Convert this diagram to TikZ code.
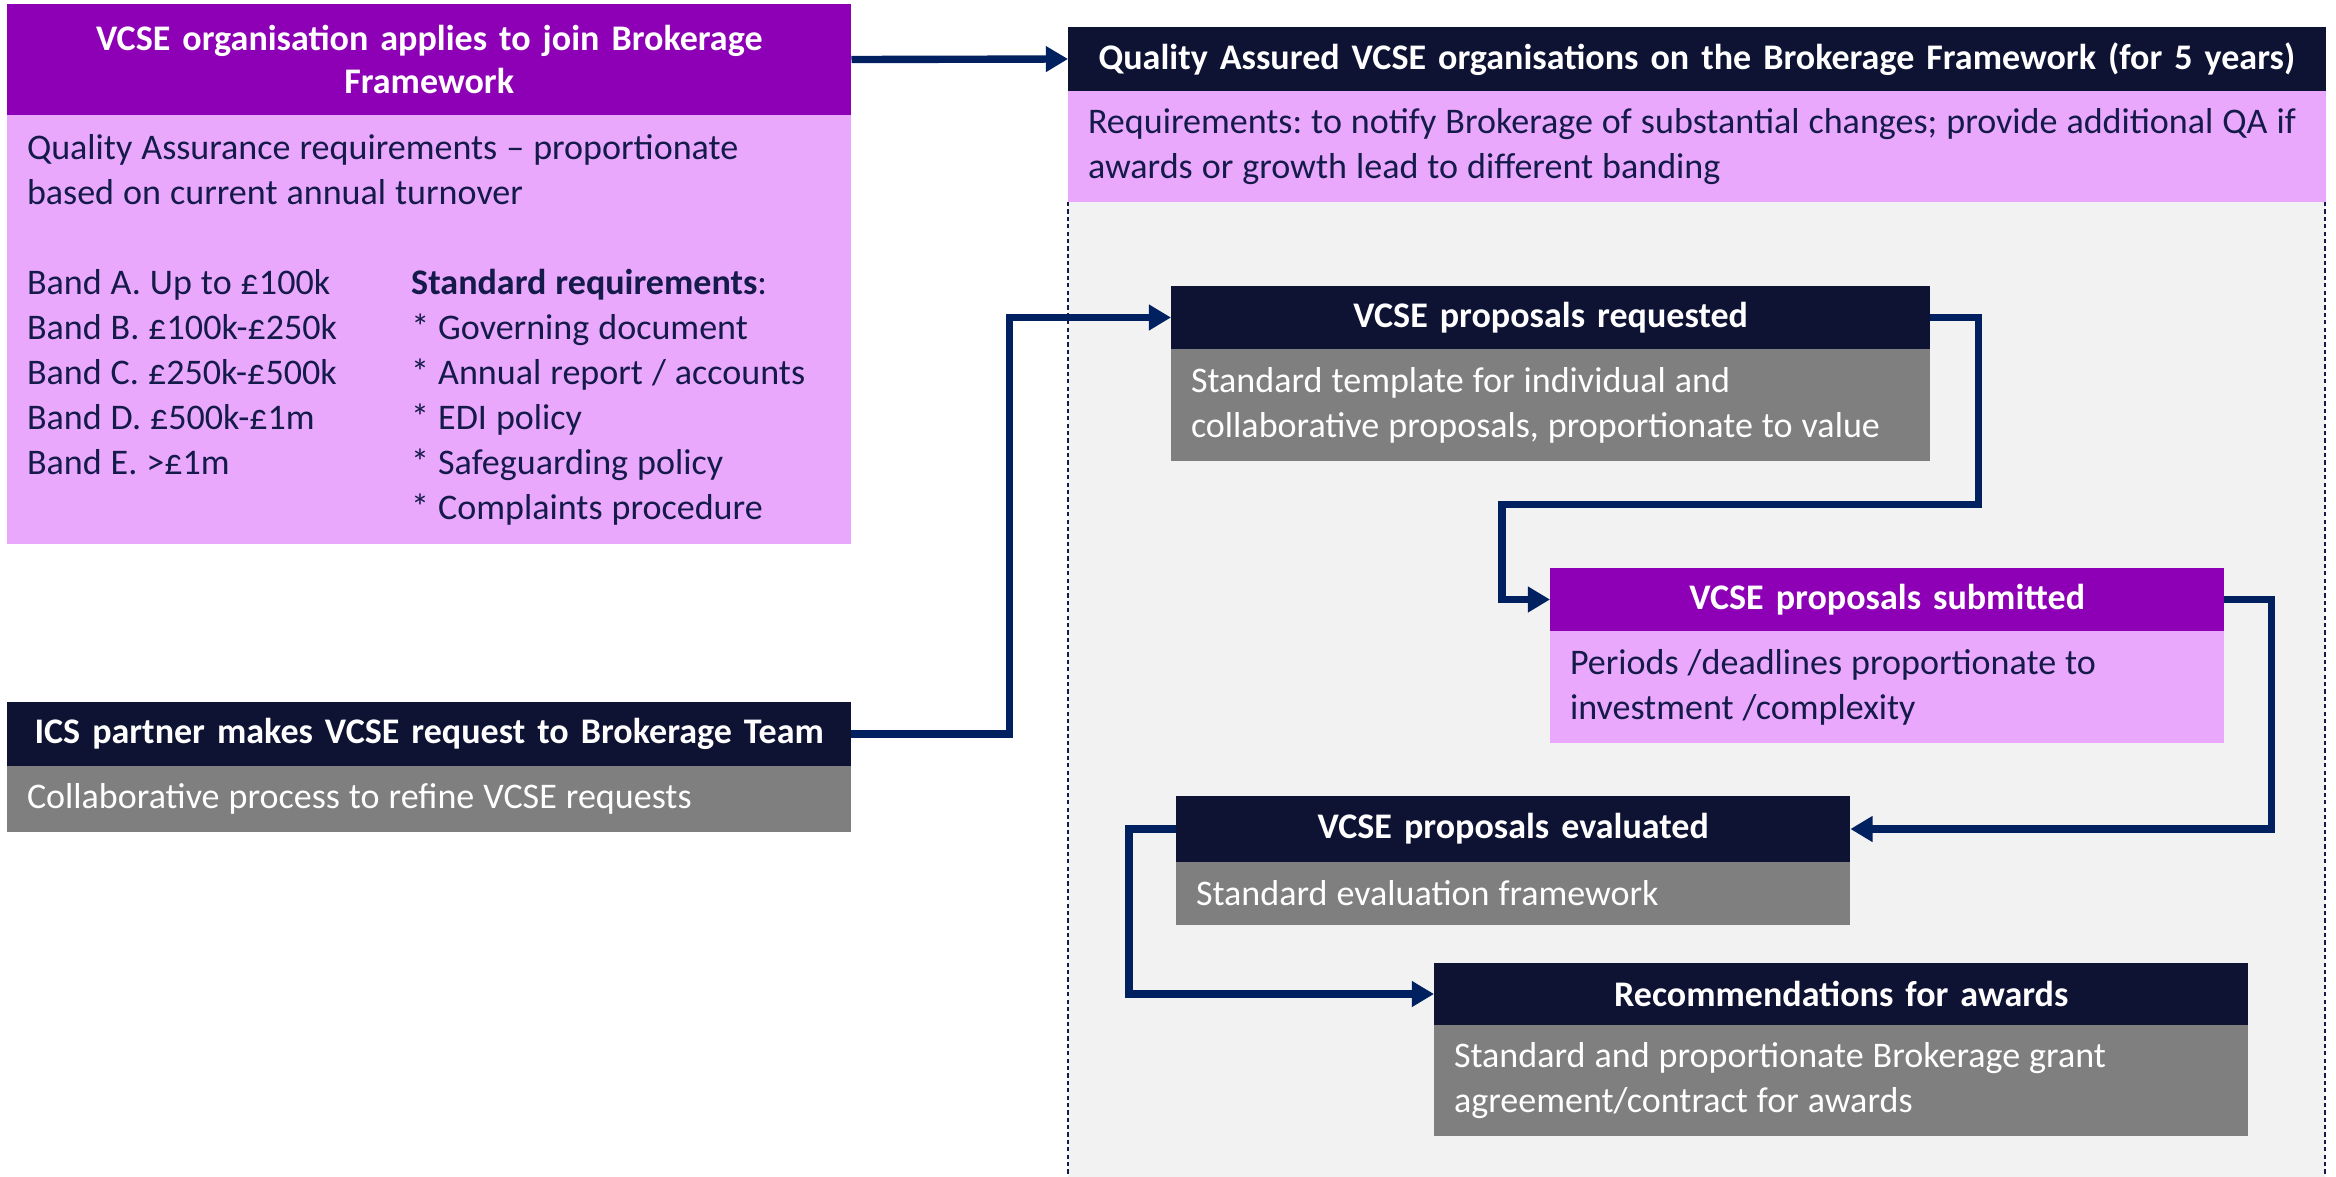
\documentclass[tikz,border=0pt]{standalone}
\usepackage{fontspec}
\setmainfont{Carlito}
\usetikzlibrary{arrows.meta}

\definecolor{headnavy}{HTML}{0E1233}
\definecolor{headpurple}{HTML}{8E00B5}
\definecolor{bodypink}{HTML}{EAA8FC}
\definecolor{bodygrey}{HTML}{7F7F7F}
\definecolor{textnavy}{HTML}{141A4A}
\definecolor{linkblue}{HTML}{002060}
\definecolor{panelgrey}{HTML}{F2F2F2}

\newcommand\headfont{\bfseries\fontsize{10.25}{12.3}\selectfont}
\newcommand\bodyfont{\fontsize{10.25}{12.8}\selectfont}

\begin{document}
\begin{tikzpicture}[x=0.01cm, y=-0.01cm,
  head/.style={fill=headnavy, text=white, font=\headfont,
    inner sep=0pt, outer sep=0pt, align=center, anchor=north west},
  purplehead/.style={head, fill=headpurple},
  pinkbody/.style={fill=bodypink, text=textnavy, font=\bodyfont,
    execute at begin node={\frenchspacing\xspaceskip=0pt\spaceskip=0.25em plus 0.1em minus 0.05em\relax},
    inner xsep=0.2cm, inner ysep=0pt, outer sep=0pt, align=left, anchor=north west},
  greybody/.style={pinkbody, fill=bodygrey, text=white},
  flow/.style={draw=linkblue, line width=2.1pt, -{Triangle[length=6.3pt, width=7pt]}}]

\useasboundingbox (0,0) rectangle (2336,1177);

%panel behind the framework
\fill[panelgrey] (1068,202) rectangle (2325,1177);
\draw[textnavy, line width=0.8pt, dash pattern=on 1.2pt off 0.9pt] (1068,202) -- (1068,1177);
\draw[textnavy, line width=0.8pt, dash pattern=on 1.2pt off 0.9pt] (2325,202) -- (2325,1177);

%boxes
\node[purplehead, text width=8.44cm, minimum height=1.11cm] (join) at (7,4)
  {VCSE organisation applies to join Brokerage\\Framework};
\node[pinkbody, text width=8.04cm, minimum height=4.29cm] (joinbody) at (join.south west)
  {Quality Assurance requirements -- proportionate\\
   based on current annual turnover\\[12.8pt]
   \makebox[3.84cm][l]{Band A. Up to £100k}\textbf{Standard requirements}:\\
   \makebox[3.84cm][l]{Band B. £100k-£250k}* Governing document\\
   \makebox[3.84cm][l]{Band C. £250k-£500k}* Annual report / accounts\\
   \makebox[3.84cm][l]{Band D. £500k-£1m}* EDI policy\\
   \makebox[3.84cm][l]{Band E. >£1m}* Safeguarding policy\\
   \makebox[3.84cm][l]{}* Complaints procedure};

\node[head, text width=12.57cm, minimum height=0.64cm] (qa) at (1068,27)
  {Quality Assured VCSE organisations on the Brokerage Framework (for 5 years)};
\node[pinkbody, text width=12.17cm, minimum height=1.11cm] (qabody) at (qa.south west)
  {\mbox{Requirements: to notify Brokerage of substantial changes; provide additional QA if}\\
   awards or growth lead to different banding};

\node[head, text width=8.44cm, minimum height=0.64cm] (ics) at (7,702)
  {ICS partner makes VCSE request to Brokerage Team};
\node[greybody, text width=8.04cm, minimum height=0.66cm] (icsbody) at (ics.south west)
  {Collaborative process to refine VCSE requests};

\node[head, text width=7.59cm, minimum height=0.63cm] (req) at (1171,286)
  {VCSE proposals requested};
\node[greybody, text width=7.19cm, minimum height=1.12cm] (reqbody) at (req.south west)
  {Standard template for individual and\\
   collaborative proposals, proportionate to value};

\node[purplehead, text width=6.74cm, minimum height=0.63cm] (sub) at (1550,568)
  {VCSE proposals submitted};
\node[pinkbody, text width=6.34cm, minimum height=1.12cm] (subbody) at (sub.south west)
  {Periods /deadlines proportionate to\\
   investment /complexity};

\node[head, text width=6.74cm, minimum height=0.66cm] (eval) at (1176,796)
  {VCSE proposals evaluated};
\node[greybody, text width=6.34cm, minimum height=0.63cm] (evalbody) at (eval.south west)
  {Standard evaluation framework};

\node[head, text width=8.14cm, minimum height=0.62cm] (rec) at (1434,963)
  {Recommendations for awards};
\node[greybody, text width=7.74cm, minimum height=1.11cm] (recbody) at (rec.south west)
  {Standard and proportionate Brokerage grant\\
   agreement/contract for awards};

%connectors
\draw[flow] (join.east) -- (qa.west);
\draw[flow] (ics.east) -- ++(158,0) |- (req.west);
\draw[flow] (req.east) -- ++(48,0) -- ++(0,187) -| ([xshift=-0.48cm]sub.west) -- (sub.west);
\draw[flow] (sub.east) -- ++(47,0) |- (eval.east);
\draw[flow] (eval.west) -- ++(-47,0) |- (rec.west);
\end{tikzpicture}
\end{document}
